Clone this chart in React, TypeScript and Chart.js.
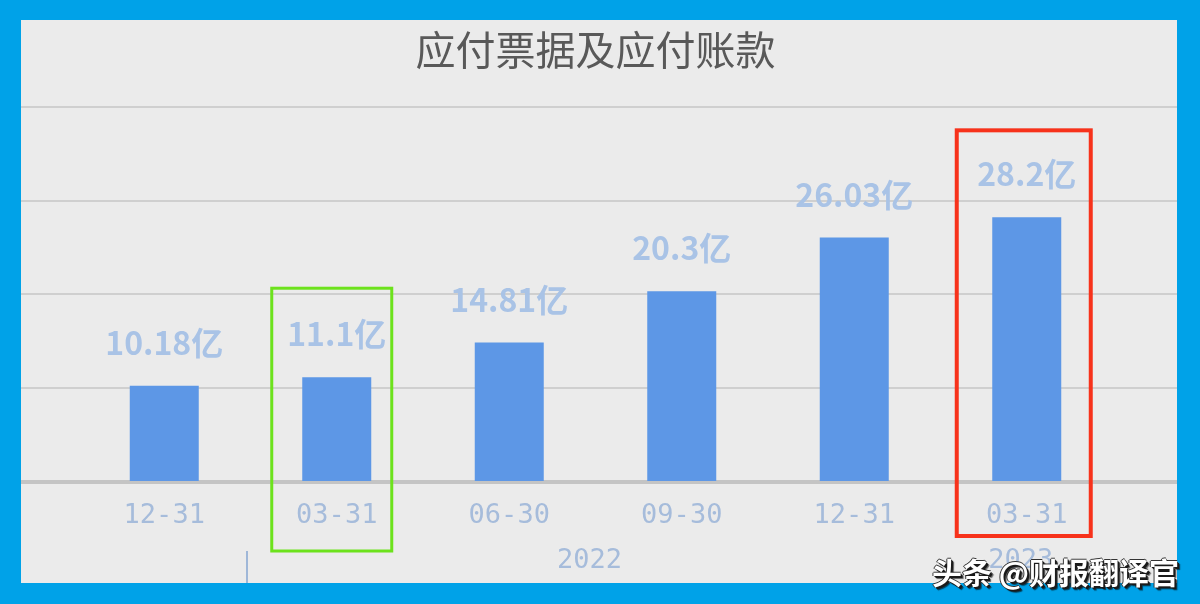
import React, { useEffect, useRef } from 'react';
import { Chart, registerables } from 'chart.js';

Chart.register(...registerables);

// ---- data ----
const categories = ['12-31', '03-31', '06-30', '09-30', '12-31', '03-31'];
const years = ['', '2022', '2022', '2022', '2022', '2023'];
const values = [10.18, 11.1, 14.81, 20.3, 26.03, 28.2];
const valueLabels = ['10.18亿', '11.1亿', '14.81亿', '20.3亿', '26.03亿', '28.2亿'];
const yTicks = [0, 10, 20, 30, 40];
const titleText = '应付票据及应付账款';
const watermarkText = '头条 @财报翻译官';
const highlightIndex = [1, 5];
const yearDividerBefore = [1];

// ---- styles ----
const BORDER_BLUE = '#00a2e8';
const PANEL_BG = '#ebebeb';
const BAR_COLOR = '#5d97e6';
const LABEL_COLOR = '#a9c3e6';
const AXIS_TEXT = '#a6bcdb';
const highlightStyles = [
  { color: '#6ce21c', width: 3, left: -65, right: 55, above: 89, below: 70 },
  { color: '#f7321b', width: 4, left: -70, right: 64, above: 87, below: 55 },
];

const fullGridPlugin = {
  id: 'fullGrid',
  beforeDatasetsDraw(chart: any) {
    const { ctx } = chart;
    const y = chart.scales.y;
    ctx.save();
    yTicks.forEach((v) => {
      const py = Math.round(y.getPixelForValue(v)) + (v === 0 ? 1 : 0);
      ctx.strokeStyle = v === 0 ? '#c4c4c4' : '#cfcfcf';
      ctx.lineWidth = v === 0 ? 4 : 2;
      ctx.beginPath();
      ctx.moveTo(0, py);
      ctx.lineTo(chart.width, py);
      ctx.stroke();
    });
    ctx.restore();
  },
};

const labelsPlugin = {
  id: 'valueLabels',
  afterDatasetsDraw(chart: any) {
    const { ctx } = chart;
    const meta = chart.getDatasetMeta(0);
    ctx.save();
    ctx.font = 'bold 32px "Noto Sans CJK SC", "Noto Sans", sans-serif';
    ctx.fillStyle = LABEL_COLOR;
    ctx.textAlign = 'center';
    ctx.textBaseline = 'middle';
    meta.data.forEach((bar: any, i: number) => {
      ctx.fillText(valueLabels[i], bar.x, bar.y - 43);
    });
    ctx.restore();
  },
};

const yearsPlugin = {
  id: 'yearRow',
  afterDraw(chart: any) {
    const { ctx } = chart;
    const x = chart.scales.x;
    const base = chart.chartArea.bottom;
    ctx.save();
    ctx.font = '27px "DejaVu Sans Mono", monospace';
    ctx.fillStyle = AXIS_TEXT;
    ctx.textAlign = 'center';
    ctx.textBaseline = 'middle';
    let start = 0;
    for (let i = 1; i <= years.length; i++) {
      if (i === years.length || years[i] !== years[start]) {
        if (years[start]) {
          const cx = (x.getPixelForValue(start) + x.getPixelForValue(i - 1)) / 2 - 6;
          ctx.fillText(years[start], cx, base + 80);
        }
        start = i;
      }
    }
    ctx.strokeStyle = '#9fb7d8';
    ctx.lineWidth = 2;
    yearDividerBefore.forEach((idx) => {
      const px = Math.round((x.getPixelForValue(idx - 1) + x.getPixelForValue(idx)) / 2) - 4;
      ctx.beginPath();
      ctx.moveTo(px, base + 70);
      ctx.lineTo(px, chart.height);
      ctx.stroke();
    });
    ctx.restore();
  },
};

const highlightPlugin = {
  id: 'highlights',
  afterDraw(chart: any) {
    const { ctx } = chart;
    const meta = chart.getDatasetMeta(0);
    const base = chart.chartArea.bottom;
    ctx.save();
    highlightIndex.forEach((idx, k) => {
      const s = highlightStyles[k];
      const bar = meta.data[idx];
      const l = bar.x + s.left;
      const r = bar.x + s.right;
      const t = bar.y - s.above;
      const b = base + s.below;
      ctx.strokeStyle = s.color;
      ctx.lineWidth = s.width;
      ctx.strokeRect(l, t, r - l, b - t);
    });
    ctx.restore();
  },
};

export default function App() {
  const ref = useRef<HTMLCanvasElement | null>(null);

  useEffect(() => {
    if (!ref.current) return;
    const chart = new Chart(ref.current, {
      type: 'bar',
      data: {
        labels: categories,
        datasets: [
          {
            data: values,
            backgroundColor: BAR_COLOR,
            borderWidth: 0,
            barPercentage: 0.4,
            categoryPercentage: 1,
          },
        ],
      },
      options: {
        animation: false,
        responsive: false,
        devicePixelRatio: 1,
        layout: { padding: { left: 57, right: 64, top: 0, bottom: 0 } },
        plugins: {
          legend: { display: false },
          tooltip: { enabled: false },
          title: {
            display: true,
            text: titleText,
            color: '#595959',
            font: { family: '"Noto Sans CJK SC", sans-serif', size: 40, weight: 'normal', lineHeight: 1.2 },
            padding: { top: 6, bottom: 33 },
          },
        },
        scales: {
          y: {
            display: false,
            min: 0,
            max: 40,
            ticks: { stepSize: 10 },
          },
          x: {
            grid: { display: false },
            border: { display: false },
            ticks: {
              color: AXIS_TEXT,
              font: { family: '"DejaVu Sans Mono", monospace', size: 27 },
              padding: 11,
              maxRotation: 0,
            },
            afterFit: (scale: any) => {
              scale.height = 102;
            },
          },
        },
      },
      plugins: [fullGridPlugin, labelsPlugin, yearsPlugin, highlightPlugin],
    });
    return () => chart.destroy();
  }, []);

  return (
    <div
      style={{
        position: 'absolute',
        left: 0,
        top: 0,
        width: 1200,
        height: 604,
        background: BORDER_BLUE,
        overflow: 'hidden',
      }}
    >
      <canvas
        ref={ref}
        width={1156}
        height={563}
        style={{ position: 'absolute', left: 21, top: 20, width: 1156, height: 563, background: PANEL_BG }}
      />
      <div
        style={{
          position: 'absolute',
          left: 932,
          top: 551,
          fontFamily: '"Noto Sans CJK SC", sans-serif',
          fontSize: 30,
          fontWeight: 'bold',
          lineHeight: '40px',
          color: '#ffffff',
          whiteSpace: 'nowrap',
          textShadow:
            '2px 2px 0 #1a1a1a, 1px 1px 0 #1a1a1a, 3px 3px 1px rgba(0,0,0,0.6), -1px 0 0 #333, 0 -1px 0 #333',
        }}
      >
        {watermarkText}
      </div>
    </div>
  );
}
